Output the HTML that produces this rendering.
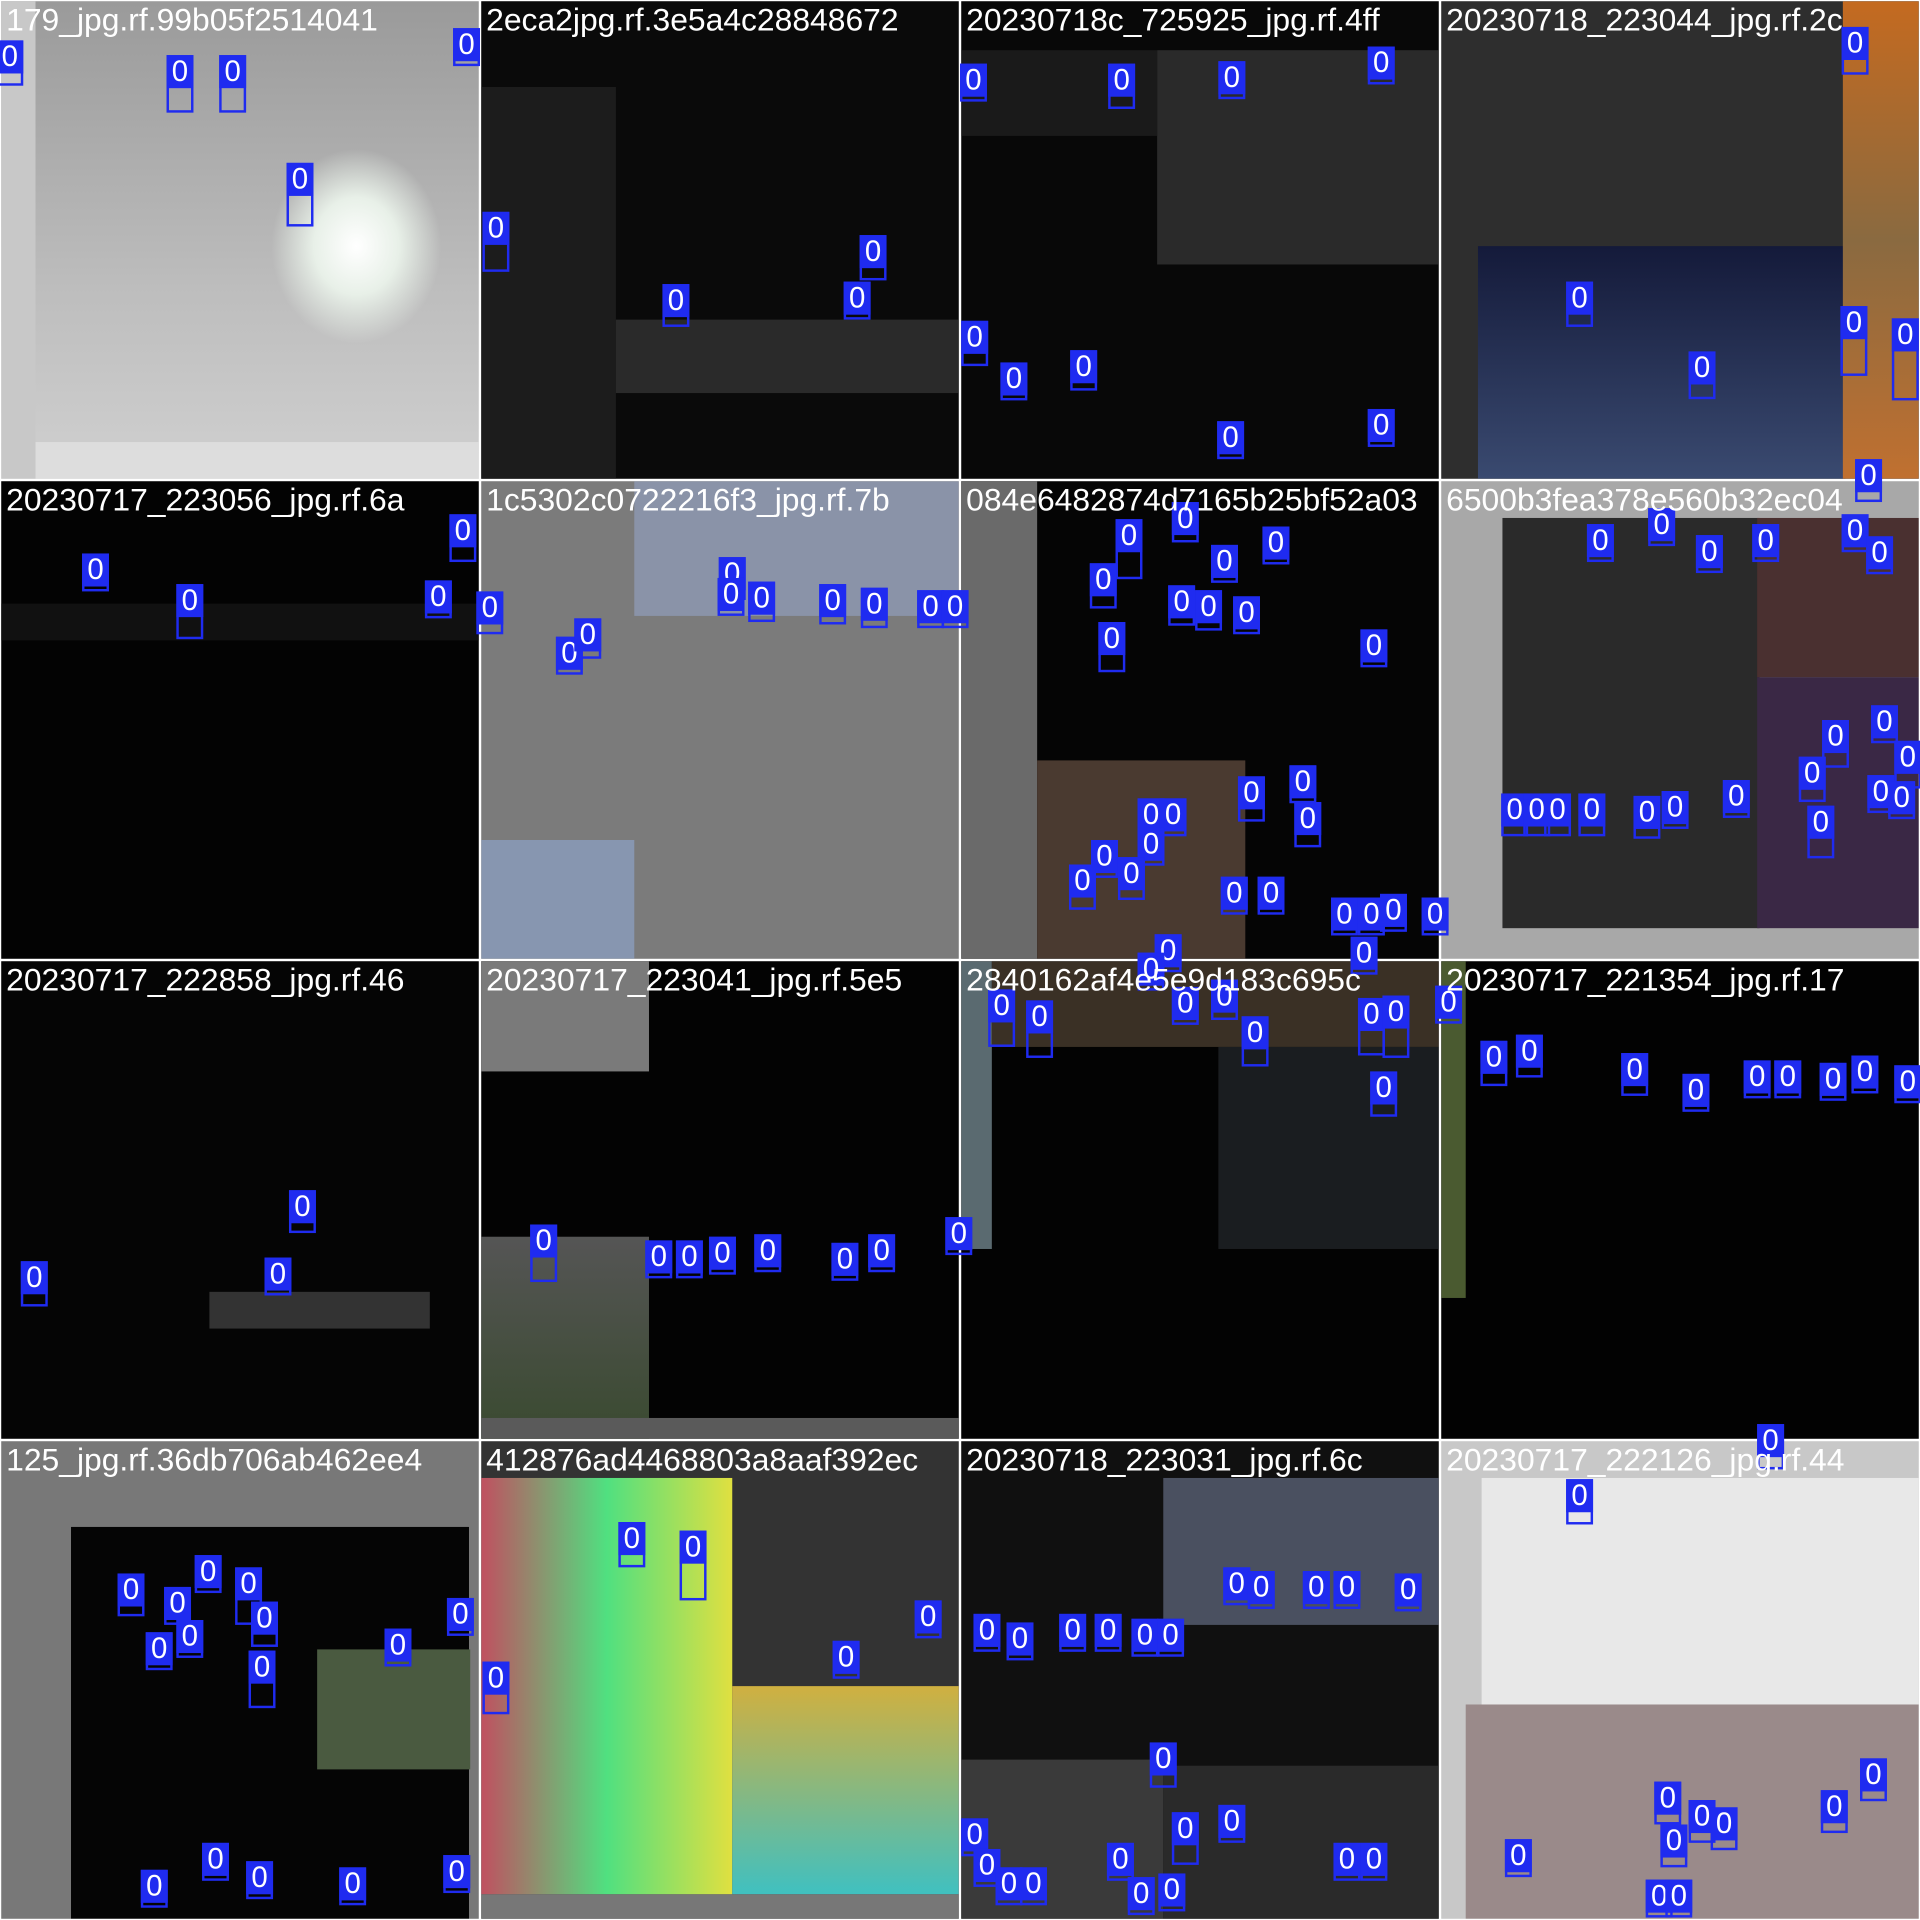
<!DOCTYPE html>
<html><head><meta charset="utf-8">
<style>
html,body{margin:0;padding:0;background:#fff;width:1920px;height:1920px;overflow:hidden}
#wrap{position:absolute;left:0;top:0;width:1568px;height:1568px;transform:scale(1.22449);transform-origin:0 0;background:#fff}
.tile{position:absolute;width:390px;height:390px;overflow:hidden}
.title{position:absolute;left:4px;top:0px;color:#fff;font:26px "Liberation Sans",sans-serif;white-space:nowrap;z-index:5}
.lbl{position:absolute;background:#1f2bf0;color:#fff;font:24px "Liberation Sans",sans-serif;line-height:27px;width:22px;text-align:center;z-index:4}
.box{position:absolute;border:2px solid #1f2bf0;z-index:3;box-sizing:border-box}
</style></head><body>
<div id="wrap">
<div class="tile" style="left:1px;top:1px;background:linear-gradient(#9a9a9a,#bdbdbd 60%,#d0d0d0)"><div style="position:absolute;left:0;top:360px;width:390px;height:30px;background:#ddd"></div><div style="position:absolute;left:0;top:0;width:28px;height:390px;background:#c8c8c8"></div><div style="position:absolute;left:220px;top:120px;width:140px;height:160px;background:radial-gradient(#fff,#e8f0e8 35%,transparent 70%)"></div><div class="title">179_jpg.rf.99b05f2514041</div></div>
<div class="tile" style="left:393px;top:1px;background:#0a0a0a"><div style="position:absolute;left:0;top:70px;width:110px;height:320px;background:#1c1c1c"></div><div style="position:absolute;left:110px;top:260px;width:280px;height:60px;background:#2a2a2a"></div><div class="title">2eca2jpg.rf.3e5a4c28848672</div></div>
<div class="tile" style="left:785px;top:1px;background:#080808"><div style="position:absolute;left:160px;top:40px;width:230px;height:175px;background:#2a2a2a"></div><div style="position:absolute;left:0;top:40px;width:160px;height:70px;background:#1a1a1a"></div><div class="title">20230718c_725925_jpg.rf.4ff</div></div>
<div class="tile" style="left:1177px;top:1px;background:#2e2e2e"><div style="position:absolute;left:30px;top:200px;width:300px;height:190px;background:linear-gradient(#141a3a,#3a4a70)"></div><div style="position:absolute;left:328px;top:0;width:62px;height:390px;background:linear-gradient(#c46a20,#8a6a40,#c07030)"></div><div class="title">20230718_223044_jpg.rf.2c</div></div>

<div class="tile" style="left:1px;top:393px;background:#030303"><div style="position:absolute;left:0;top:100px;width:390px;height:30px;background:#111"></div><div class="title">20230717_223056_jpg.rf.6a</div></div>
<div class="tile" style="left:393px;top:393px;background:#7b7b7b"><div style="position:absolute;left:125px;top:0;width:265px;height:110px;background:#8a93a8"></div><div style="position:absolute;left:0;top:293px;width:125px;height:97px;background:#8796b0"></div><div class="title">1c5302c0722216f3_jpg.rf.7b</div></div>
<div class="tile" style="left:785px;top:393px;background:#050505"><div style="position:absolute;left:0;top:0;width:62px;height:390px;background:#6a6a6a"></div><div style="position:absolute;left:62px;top:228px;width:170px;height:162px;background:#4a3a30"></div><div class="title">084e6482874d7165b25bf52a03</div></div>
<div class="tile" style="left:1177px;top:393px;background:#a8a8a8"><div style="position:absolute;left:50px;top:30px;width:210px;height:335px;background:#2a2a2a"></div><div style="position:absolute;left:258px;top:160px;width:132px;height:205px;background:#3a2845"></div><div style="position:absolute;left:258px;top:30px;width:132px;height:130px;background:#4a3030"></div><div class="title">6500b3fea378e560b32ec04</div></div>

<div class="tile" style="left:1px;top:785px;background:#050505"><div style="position:absolute;left:170px;top:270px;width:180px;height:30px;background:#333"></div><div class="title">20230717_222858_jpg.rf.46</div></div>
<div class="tile" style="left:393px;top:785px;background:#030303"><div style="position:absolute;left:0;top:0;width:137px;height:90px;background:#7a7a7a"></div><div style="position:absolute;left:0;top:225px;width:137px;height:165px;background:linear-gradient(#555,#3a4a30)"></div><div style="position:absolute;left:0;top:373px;width:390px;height:17px;background:#5a5a5a"></div><div class="title">20230717_223041_jpg.rf.5e5</div></div>
<div class="tile" style="left:785px;top:785px;background:#030303"><div style="position:absolute;left:0;top:0;width:25px;height:235px;background:#5a6a70"></div><div style="position:absolute;left:25px;top:0;width:365px;height:70px;background:#3a3025"></div><div style="position:absolute;left:210px;top:70px;width:180px;height:165px;background:#1a1d20"></div><div class="title">2840162af4e5e9d183c695c</div></div>
<div class="tile" style="left:1177px;top:785px;background:#020202"><div style="position:absolute;left:0;top:0;width:20px;height:275px;background:#4a5a30"></div><div class="title">20230717_221354_jpg.rf.17</div></div>

<div class="tile" style="left:1px;top:1177px;background:#787878"><div style="position:absolute;left:57px;top:70px;width:325px;height:320px;background:#050505"></div><div style="position:absolute;left:258px;top:170px;width:125px;height:98px;background:#4a5a40"></div><div class="title">125_jpg.rf.36db706ab462ee4</div></div>
<div class="tile" style="left:393px;top:1177px;background:#333"><div style="position:absolute;left:0;top:30px;width:205px;height:340px;background:linear-gradient(90deg,#c05060,#50e080,#e0e040)"></div><div style="position:absolute;left:205px;top:200px;width:185px;height:170px;background:linear-gradient(#d0b040,#40c0c0)"></div><div style="position:absolute;left:0;top:370px;width:390px;height:20px;background:#777"></div><div class="title">412876ad4468803a8aaf392ec</div></div>
<div class="tile" style="left:785px;top:1177px;background:#101010"><div style="position:absolute;left:165px;top:30px;width:225px;height:120px;background:#4a5060"></div><div style="position:absolute;left:0;top:260px;width:165px;height:130px;background:#3a3a3a"></div><div style="position:absolute;left:165px;top:265px;width:225px;height:125px;background:#2a2a2a"></div><div class="title">20230718_223031_jpg.rf.6c</div></div>
<div class="tile" style="left:1177px;top:1177px;background:#c8c8c8"><div style="position:absolute;left:33px;top:30px;width:357px;height:185px;background:#e8e8e8"></div><div style="position:absolute;left:20px;top:215px;width:370px;height:175px;background:#9a8a8a"></div><div class="title">20230717_222126_jpg.rf.44</div></div>
</div>
<script>
// label centre x and label top y (1568-px mosaic space)
const boxX=[8,147,190,245,381, 405,552,713,700, 795,916,1006,1128,796,828,885,1005,1128, 1290,1390,1515,1514,1556,
78,155,358,378, 400,465,480,598,597,622,680,714,760,780,
922,968,1000,1042,901,908,965,987,1018,1122,1022,1064,1068,940,958,940,902,924,884,1008,1038,1098,1120,1138,1172,1114,954,940,
1307,1357,1396,1442,1515,1535,1526,1499,1539,1558,1480,1487,1536,1553,1237,1255,1272,1300,1345,1368,1418,
28,247,227, 444,538,563,590,627,690,720,783, 818,849,968,1000,1025,1120,1140,1130,1183, 1220,1249,1335,1385,1435,1460,1497,1523,1558,
107,145,170,203,216,130,155,214,325,376,126,176,212,288,373, 516,566,405,691,758,
806,833,876,905,935,956,1010,1030,1075,1100,1150,950,968,1006,796,806,824,844,915,932,957,1100,1122,
1446,1290,1530,1498,1362,1390,1408,1367,1240,1355,1371];
const boxY=[33,45,45,133,23, 173,232,192,230, 52,52,50,38,262,296,286,344,334, 230,287,22,250,260,
452,477,474,420, 483,520,505,455,472,475,477,480,482,482,
424,410,445,430,460,508,478,482,487,514,634,625,655,652,652,676,686,700,706,716,716,733,733,730,733,765,763,778,
428,415,437,428,420,438,375,588,576,605,618,658,633,638,648,648,648,648,650,646,637,
1030,972,1027, 1000,1013,1013,1010,1008,1015,1008,994, 808,817,806,800,830,815,813,875,805, 850,845,860,877,866,866,868,862,870,
1285,1296,1270,1280,1308,1333,1323,1348,1330,1305,1527,1505,1520,1525,1515, 1243,1250,1357,1340,1307,
1318,1325,1318,1318,1322,1322,1280,1283,1283,1283,1285,1423,1480,1474,1485,1510,1525,1525,1505,1533,1530,1505,1505,
1163,1208,1436,1462,1455,1470,1476,1490,1502,1535,1535];
// extra box height below the label
const boxH=[10,20,20,25,4, 22,8,10,4, 4,10,4,4,10,4,6,4,4, 10,12,12,30,40,
4,18,4,12, 8,4,6,8,4,6,6,6,4,4,
22,6,4,4,10,14,6,6,4,4,10,4,10,4,4,4,4,8,10,4,4,4,4,4,4,4,4,4,
4,4,4,4,4,4,8,12,4,12,10,16,4,4,8,8,8,8,8,4,4,
10,8,4, 20,4,4,4,4,4,4,4, 20,20,4,6,14,20,24,10,4, 10,8,8,4,4,4,4,4,4,
8,4,4,20,10,4,4,20,4,4,4,4,4,4,4, 10,30,16,4,4,
4,4,4,4,4,4,4,4,4,4,4,10,16,4,4,4,4,4,4,4,4,4,4,
10,10,8,8,8,8,8,8,4,4,4];
const wrap=document.getElementById('wrap');
for(let i=0;i<boxX.length;i++){
  const h=(boxH[i]===undefined?6:boxH[i]);
  const b=document.createElement('div');
  b.className='box';
  
  
  b.style.left=(boxX[i]-11)+'px';b.style.top=boxY[i]+'px';
  b.style.width='22px';b.style.height=(27+h)+'px';
  wrap.appendChild(b);
  const l=document.createElement('div');
  l.className='lbl';
  
  
  l.style.left=(boxX[i]-11)+'px';l.style.top=boxY[i]+'px';
  l.textContent='0';
  wrap.appendChild(l);
}
</script>
</body></html>
